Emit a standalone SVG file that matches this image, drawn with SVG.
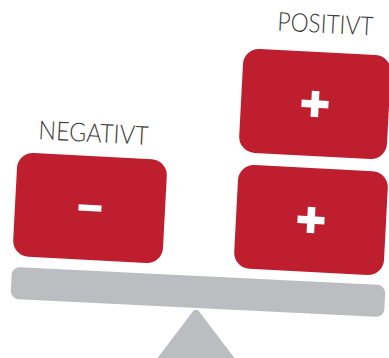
<svg xmlns="http://www.w3.org/2000/svg" width="389" height="358" viewBox="0 0 389 358">
<style>
.box{fill:#BE1E2D}
.sign{fill:#FFFFFF}
.gray{fill:#BCBDC0}
.lbl{font-family:Lato,"Open Sans","DejaVu Sans",sans-serif;font-weight:300;font-size:26px;fill:#3A3A3A}
</style>
<rect width="389" height="358" fill="#FFFFFF"/>
<g id="fulcrum">
<path d="M196,314 L158,364 L234,364 Z" class="gray" stroke="#BCBDC0" stroke-width="8" stroke-linejoin="round"/>
</g>
<g id="beam" transform="translate(198,292) rotate(2.8)">
<rect x="-187" y="-16" width="374" height="32" rx="8" class="gray"/>
</g>
<g id="negativ-box" transform="translate(90,208) rotate(3)">
<rect x="-75" y="-52" width="150" height="104" rx="16" class="box"/>
<rect x="-11.5" y="-3.2" width="23" height="6.4" class="sign"/>
</g>
<g id="positiv-top" transform="translate(315,104) rotate(3)">
<rect x="-74" y="-52" width="148" height="104" rx="16" class="box"/>
<rect x="-13.5" y="-3.8" width="27" height="7.6" class="sign"/>
<rect x="-3.8" y="-13" width="7.6" height="26" class="sign"/>
</g>
<g id="positiv-bottom" transform="translate(311,220) rotate(3)">
<rect x="-75" y="-52" width="150" height="104" rx="16" class="box"/>
<rect x="-13.5" y="-3.8" width="27" height="7.6" class="sign"/>
<rect x="-3.8" y="-13" width="7.6" height="26" class="sign"/>
</g>
<g id="label-negativt" transform="translate(93,142) rotate(3)">
<text x="0" y="0" text-anchor="middle" class="lbl" textLength="110" lengthAdjust="spacingAndGlyphs">NEGATIVT</text>
</g>
<g id="label-positivt" transform="translate(325,33) rotate(3)">
<text x="0" y="0" text-anchor="middle" class="lbl" textLength="96" lengthAdjust="spacingAndGlyphs">POSITIVT</text>
</g>
<g id="connectors"/>
</svg>
